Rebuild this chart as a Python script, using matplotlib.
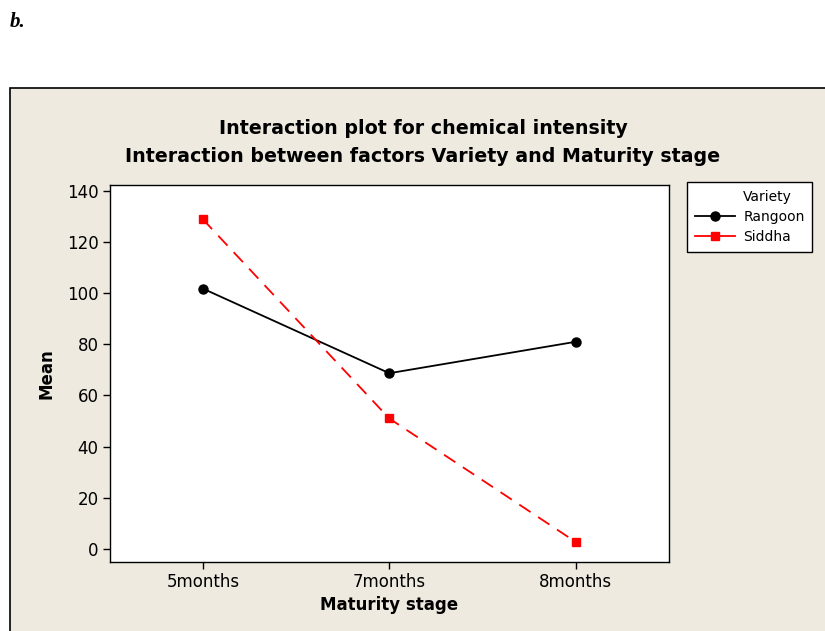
import matplotlib
matplotlib.use("Agg")
import matplotlib.pyplot as plt
from matplotlib.patches import Rectangle
from matplotlib.lines import Line2D

stages = ["5months", "7months", "8months"]
rangoon = [101.8, 68.7, 81.0]
siddha = [128.9, 51.0, 2.7]
yticks = [0, 20, 40, 60, 80, 100, 120, 140]

W, H = 825, 631
fig = plt.figure(figsize=(W / 100, H / 100), dpi=100)
fig.patch.set_facecolor("white")

bg = "#EEEAE0"
fig.patches.append(Rectangle((10 / W, -0.1), 1.2, (H - 88) / H + 0.1, transform=fig.transFigure,
                             facecolor=bg, edgecolor="black", linewidth=1.2, zorder=-5))

fig.text(10 / W, 1 - 22 / H, "b.", fontsize=15, fontweight="bold", fontstyle="italic",
         family="Liberation Serif", va="center", ha="left")

ax = fig.add_axes([109.6 / W, 1 - 561.7 / H, (669 - 109.6) / W, (561.7 - 185) / H])
ax.set_zorder(2)
ax.set_facecolor("white")
x = list(range(1, len(stages) + 1))
ax.plot(x, rangoon, color="black", linestyle="-", linewidth=1.3, marker="o",
        markersize=6.5, label="Rangoon")
ax.plot(x, siddha, color="red", linestyle=(0, (7.5, 5)), linewidth=1.3, marker="s",
        markersize=6.3, label="Siddha")
ax.set_xlim(0.5, 3.5)
ax.set_ylim(-5, 142.3)
ax.set_xticks(x)
ax.set_xticklabels(stages)
ax.set_yticks(yticks)
for s in ax.spines.values():
    s.set_linewidth(1.0)
ax.tick_params(axis="both", direction="out", length=5, width=1, labelsize=12,
               top=False, right=False, pad=3)
ax.set_xlabel("Maturity stage", fontsize=12, fontweight="bold", labelpad=4)
ax.set_ylabel("Mean", fontsize=12, fontweight="bold", labelpad=8)

fig.text(423 / W, 1 - 128 / H, "Interaction plot for chemical intensity", fontsize=13.7,
         fontweight="bold", ha="center", va="center")
fig.text(423 / W, 1 - 156 / H, "Interaction between factors Variety and Maturity stage",
         fontsize=13.7, fontweight="bold", ha="center", va="center")

handles = [Line2D([], [], linestyle="none"),
           Line2D([], [], color="black", marker="o", markersize=6.5, linewidth=1.3),
           Line2D([], [], color="red", marker="s", markersize=6.3, linewidth=1.3)]
labels = ["Variety", "Rangoon", "Siddha"]
leg = fig.legend(handles, labels, loc="upper left", bbox_to_anchor=(687 / W, 1 - 182 / H),
                 fontsize=10, frameon=True, fancybox=False, edgecolor="black",
                 facecolor="white", framealpha=1, handlelength=2.9, borderpad=0.55,
                 labelspacing=0.45, handletextpad=0.6, borderaxespad=0)
leg.get_frame().set_linewidth(1.0)
leg.set_zorder(3)

fig.savefig("out.png", dpi=100, facecolor=fig.get_facecolor())
